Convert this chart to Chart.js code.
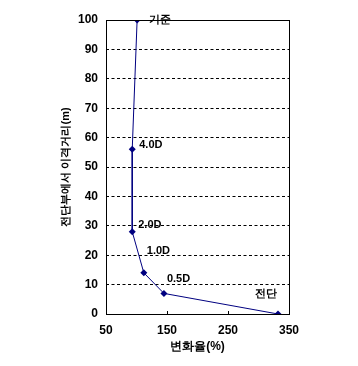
<!DOCTYPE html>
<html>
<head>
<meta charset="utf-8">
<script src="https://cdn.jsdelivr.net/npm/chart.js@4"></script>
<style>
  html, body { margin: 0; padding: 0; background: #fff; }
  #wrap { width: 358px; height: 366px; }
</style>
</head>
<body>
<div id="wrap"><canvas id="chart" width="358" height="366"></canvas></div>
<script>
// Data
const pointLabels = ['기준', '4.0D', '2.0D', '1.0D', '0.5D', '전단'];
const rateValues = [101, 93, 93, 112, 145, 332];      // 변화율(%)
const distanceValues = [100, 56, 28, 14, 7, 0];       // 이격거리(m)
const xTicks = [50, 150, 250, 350];
const yTicks = [0, 10, 20, 30, 40, 50, 60, 70, 80, 90, 100];

// label offsets from each point (px)
const labelOffsets = [[12, 0], [7, -4], [6, -7], [3, -22], [3, -14], [-23, -20]];

const FONT = 'Liberation Sans, Arial, sans-serif';
const NAVY = '#000080';

// Plot frame + point labels
const framePlugin = {
    id: 'frame',
    afterDraw(chart) {
        const ctx = chart.ctx;
        const a = chart.chartArea;
        ctx.save();
        ctx.strokeStyle = '#000';
        ctx.lineWidth = 1;
        ctx.strokeRect(Math.round(a.left) + 0.5, Math.round(a.top) + 0.5,
            Math.round(a.right - a.left), Math.round(a.bottom - a.top));

        // small inner ticks on x axis
        const xs = chart.scales.x;
        xTicks.forEach(v => {
            const px = Math.round(xs.getPixelForValue(v)) + 0.5;
            ctx.beginPath();
            ctx.moveTo(px, a.bottom);
            ctx.lineTo(px, a.bottom - 3);
            ctx.stroke();
        });

        const meta = chart.getDatasetMeta(0);
        ctx.fillStyle = '#000';
        ctx.font = 'bold 11px ' + FONT;
        ctx.textBaseline = 'middle';
        ctx.textAlign = 'left';
        meta.data.forEach((pt, i) => {
            const off = labelOffsets[i];
            ctx.fillText(pointLabels[i], pt.x + off[0], pt.y + off[1]);
        });
        ctx.restore();
    }
};

const ctx = document.getElementById('chart').getContext('2d');
new Chart(ctx, {
    type: 'scatter',
    data: {
        datasets: [{
            data: rateValues.map((v, i) => ({ x: v, y: distanceValues[i] })),
            showLine: true,
            borderColor: NAVY,
            borderWidth: 1,
            backgroundColor: NAVY,
            pointStyle: 'rectRot',
            pointRadius: 3.5,
            pointBorderWidth: 0,
            tension: 0
        }]
    },
    options: {
        responsive: false,
        animation: false,
        layout: { padding: { left: 0, right: 69, top: 20, bottom: 0 } },
        plugins: {
            legend: { display: false },
            tooltip: { enabled: false }
        },
        scales: {
            x: {
                type: 'linear',
                min: 50,
                max: 350,
                afterBuildTicks: s => { s.ticks = xTicks.map(v => ({ value: v })); },
                afterFit: s => { s.height = 52; },
                border: { display: false },
                grid: { display: false, drawTicks: false },
                ticks: {
                    padding: 9,
                    color: '#000',
                    font: { family: FONT, size: 12, weight: 'bold' },
                    maxRotation: 0
                },
                title: {
                    display: true,
                    text: '변화율(%)',
                    color: '#000',
                    font: { family: FONT, size: 12, weight: 'bold' },
                    padding: { top: 0, bottom: 12 }
                }
            },
            y: {
                type: 'linear',
                min: 0,
                max: 100,
                afterBuildTicks: s => { s.ticks = yTicks.map(v => ({ value: v })); },
                afterFit: s => { s.width = 106; },
                border: { display: false, dash: [3, 2.5] },
                grid: {
                    drawTicks: false,
                    color: c => (c.tick.value === 0 || c.tick.value === 100) ? 'rgba(0,0,0,0)' : '#000',
                    lineWidth: 1
                },
                ticks: {
                    padding: 8,
                    color: '#000',
                    font: { family: FONT, size: 12, weight: 'bold' }
                },
                title: {
                    display: true,
                    text: '전단부에서 이격거리(m)',
                    color: '#000',
                    font: { family: FONT, size: 11, weight: 'bold' },
                    padding: { top: 59, bottom: 0 }
                }
            }
        }
    },
    plugins: [framePlugin]
});
</script>
</body>
</html>
